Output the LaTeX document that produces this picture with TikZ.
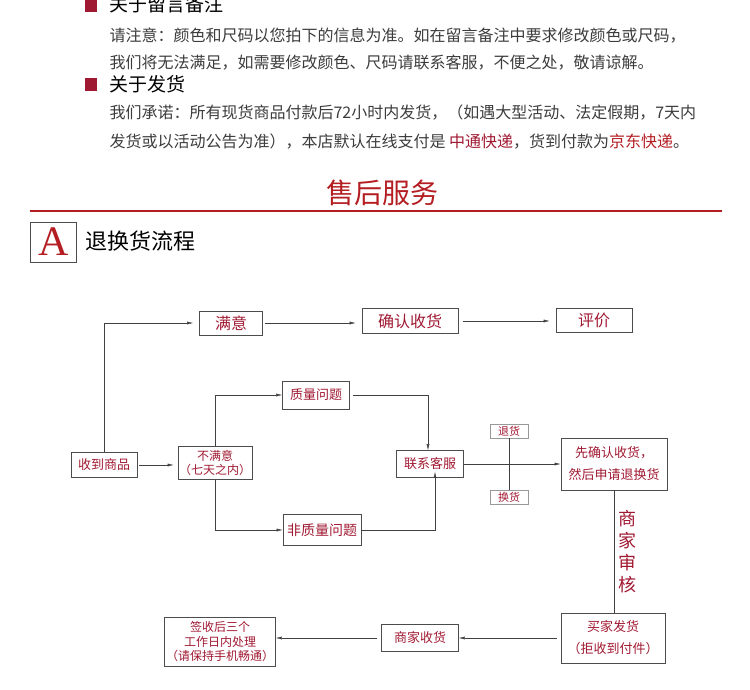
\documentclass[tikz,border=0pt]{standalone}
\usepackage{fontspec}
\setmainfont{Noto Sans CJK SC}
\newfontfamily\serifA{Liberation Serif}
\usepackage{tikz}
\usetikzlibrary{arrows.meta,positioning}
\definecolor{boxred}{RGB}{160,25,50}
\definecolor{titlered}{RGB}{180,30,35}
\definecolor{bodygray}{RGB}{60,60,60}
\tikzset{
  flowbox/.style={draw=black!70, thick, text=boxred, font=\fontsize{12}{14}\selectfont, inner sep=1pt, align=center},
  smallbox/.style={draw=black!40, text=boxred, font=\fontsize{11}{12}\selectfont, inner sep=1pt},
  bodytext/.style={anchor=west, text=bodygray, font=\fontsize{16}{18}\selectfont},
  flow/.style={-{Latex[length=6pt,width=3pt]}, black!75},
  plain/.style={black!75}
}
\begin{document}
\begin{tikzpicture}[x=1pt,y=-1pt]
            \useasboundingbox (0,0) rectangle (750,690);

            % header
            \fill[boxred] (85,-1) rectangle (97,12);
            \node[anchor=west, font=\fontsize{19}{21}\selectfont] (h1) at (106,4) {关于留言备注};
            \node[bodytext] (t1) at (106,36) {请注意：颜色和尺码以您拍下的信息为准。如在留言备注中要求修改颜色或尺码，};
            \node[bodytext] (t2) at (106,63) {我们将无法满足，如需要修改颜色、尺码请联系客服，不便之处，敬请谅解。};
            \fill[boxred] (85,78) rectangle (97,91);
            \node[anchor=west, font=\fontsize{19}{21}\selectfont] (h2) at (106,84) {关于发货};
            \node[bodytext] (t3) at (106,113) {我们承诺：所有现货商品付款后72小时内发货，（如遇大型活动、法定假期，7天内};
            \node[bodytext] (t4) at (106,142) {发货或以活动公告为准），本店默认在线支付是 \textcolor{boxred}{中通快递}，货到付款为\textcolor{titlered}{京东快递}。};

            % title
            \node[text=titlered, font=\fontsize{28}{30}\selectfont] (title) at (382,193) {售后服务};
            \draw[titlered, line width=1.5pt] (30,211) -- (722,211);
            \node[draw=black!70, thick, minimum width=46pt, minimum height=40pt, inner sep=0pt, text=titlered, font=\fontsize{42}{42}\selectfont\serifA] (abox) at (53.5,242) {A};
            \node[anchor=west, font=\fontsize{22}{24}\selectfont] (sub) at (82,241) {退换货流程};

            % flow chart
            \node[flowbox, minimum width=63pt, minimum height=24pt, font=\fontsize{16}{18}\selectfont] (ok) at (231,323) {满意};
            \node[flowbox, minimum width=96pt, minimum height=25pt, font=\fontsize{16}{18}\selectfont] (confirm) at (410,321) {确认收货};
            \node[flowbox, minimum width=76pt, minimum height=24pt, font=\fontsize{16}{18}\selectfont] (rate) at (594,320) {评价};
            \node[flowbox, minimum width=66pt, minimum height=25pt, font=\fontsize{13}{15}\selectfont] (recv) at (104,465) {收到商品};
            \node[flowbox, minimum width=66pt, minimum height=33pt] (notok) at (215,463) {不满意\\（七天之内）};
            \node[flowbox, minimum width=67pt, minimum height=28pt, font=\fontsize{13}{15}\selectfont] (qual) at (316,395) {质量问题};
            \node[flowbox, minimum width=78pt, minimum height=31pt, font=\fontsize{14}{16}\selectfont] (nqual) at (322,530) {非质量问题};
            \node[flowbox, minimum width=67pt, minimum height=27pt, font=\fontsize{13}{15}\selectfont] (service) at (430,464) {联系客服};
            \node[smallbox, minimum width=38pt, minimum height=14pt] (ret) at (509,431) {退货};
            \node[smallbox, minimum width=38pt, minimum height=14pt] (swap) at (509,497) {换货};
            \node[flowbox, minimum width=106pt, minimum height=52pt, font=\fontsize{13}{22}\selectfont] (apply) at (614,464) {先确认收货，\\然后申请退换货};
            \node[flowbox, minimum width=104pt, minimum height=50pt, font=\fontsize{13}{22}\selectfont] (ship) at (613,638) {买家发货\\（拒收到付件）};
            \node[flowbox, minimum width=77pt, minimum height=27pt, font=\fontsize{13}{15}\selectfont] (shoprecv) at (420,638) {商家收货};
            \node[flowbox, minimum width=111pt, minimum height=49pt, font=\fontsize{12}{14.5}\selectfont] (done) at (220,642) {签收后三个\\工作日内处理\\（请保持手机畅通）};
            \node[text=boxred, font=\fontsize{18}{22}\selectfont, align=center] (audit) at (627,552) {商\\家\\审\\核};

            \draw[flow] (recv.north) |- ([xshift=-6pt]ok.west);
            \draw[flow] ([xshift=2pt]ok.east) -- ([xshift=-6pt]confirm.west |- ok.east);
            \draw[flow] ([xshift=5pt]confirm.east) -- ([xshift=-6pt]rate.west |- confirm.east);
            \draw[flow] ([xshift=2pt]recv.east) -- ([xshift=-4pt]notok.west |- recv.east);
            \draw[flow] (notok.north) |- (qual.west);
            \draw[flow] (notok.south) |- (nqual.west);
            \draw[flow] ([xshift=3pt]qual.east) -| ([xshift=-2pt]service.north);
            \draw[flow] (nqual.east) -| ([xshift=5pt,yshift=6pt]service.south);
            \draw[flow] (service.east) -- (apply.west |- service.east);
            \draw[plain, thick] (ret.south) -- (swap.north);
            \draw[plain] (apply.south) -- (ship.north -| apply.south);
            \draw[flow] ([xshift=-4pt]ship.west) -- (shoprecv.east |- ship.west);
            \draw[flow] ([xshift=-4pt]shoprecv.west) -- (done.east |- shoprecv.west);
        \end{tikzpicture}
\end{document}
